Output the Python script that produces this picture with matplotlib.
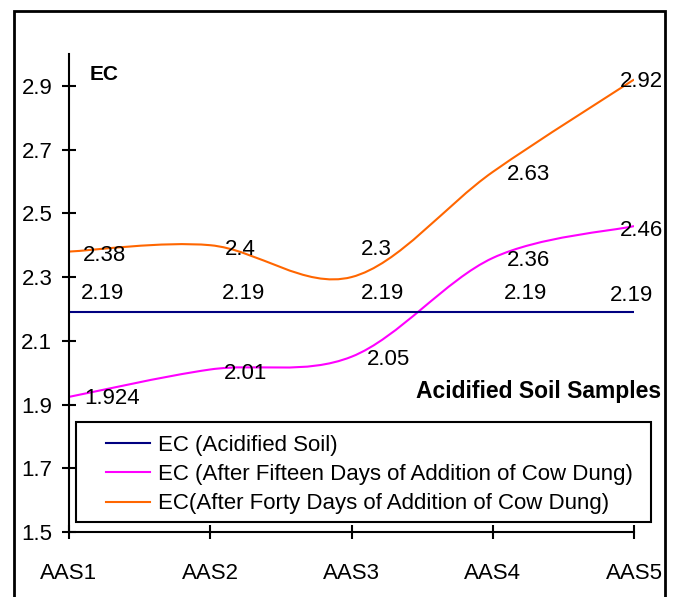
import numpy as np
import matplotlib.pyplot as plt
from matplotlib.path import Path
from matplotlib.patches import PathPatch, Rectangle
from matplotlib.lines import Line2D

plt.rcParams['font.family'] = ['Liberation Sans', 'DejaVu Sans']

# Dados do gráfico
samples = ['AAS1', 'AAS2', 'AAS3', 'AAS4', 'AAS5']
ec_acidified = [2.19, 2.19, 2.19, 2.19, 2.19]
ec_fifteen = [1.924, 2.01, 2.05, 2.36, 2.46]
ec_forty = [2.38, 2.4, 2.3, 2.63, 2.92]
y_ticks = [1.5, 1.7, 1.9, 2.1, 2.3, 2.5, 2.7, 2.9]
series_names = ['EC (Acidified Soil)',
                'EC (After Fifteen Days of Addition of Cow Dung)',
                'EC(After Forty Days of Addition of Cow Dung)']

# Cores e deslocamentos dos rótulos (pixels)
colors = ['#000080', '#FF00FF', '#FF6600']
off_acidified = [(34, 19), (33, 19), (31, 19), (33, 19), (-3, 17)]
off_fifteen = [(43, -2), (35, -4), (37, -3), (36, -3), (7, -4)]
off_forty = [(36, -4), (30, -4), (25, 28), (36, -3), (7, -2)]


# Curva suavizada (Bezier tipo Catmull-Rom, como no Excel)
def smooth_path(x, y):
    pts = np.column_stack([x, y]).astype(float)
    n = len(pts)
    verts = [pts[0]]
    codes = [Path.MOVETO]
    for i in range(n - 1):
        p0 = pts[max(i - 1, 0)]
        p1 = pts[i]
        p2 = pts[i + 1]
        p3 = pts[min(i + 2, n - 1)]
        verts += [p1 + (p2 - p0) / 6, p2 - (p3 - p1) / 6, p2]
        codes += [Path.CURVE4] * 3
    return Path(verts, codes)


fig = plt.figure(figsize=(6.75, 5.97), dpi=100)
ax = fig.add_axes([0.1022, 0.1089, 0.8371, 0.8006])

x = np.arange(len(samples))

ax.plot(x, ec_acidified, color=colors[0], lw=1.5)
for vals, c in [(ec_fifteen, colors[1]), (ec_forty, colors[2])]:
    ax.add_patch(PathPatch(smooth_path(x, vals), fill=False, edgecolor=c, lw=1.5))

# Rótulos de dados
for vals, offs in [(ec_acidified, off_acidified), (ec_fifteen, off_fifteen), (ec_forty, off_forty)]:
    for xi, v, o in zip(x, vals, offs):
        ax.annotate(f'{v:g}', (xi, v), xytext=o, textcoords='offset pixels',
                    ha='center', va='center', fontsize=16)

ax.set_xlim(0, 4)
ax.set_ylim(1.5, 3.0)
ax.set_xticks(x)
ax.set_xticklabels(samples)
ax.set_yticks(y_ticks)
ax.set_yticklabels([f'{t:g}' for t in y_ticks])
ax.tick_params(axis='both', direction='inout', length=10, width=1.5, labelsize=16)
ax.tick_params(axis='x', pad=17)
ax.tick_params(axis='y', pad=7)
for s in ['top', 'right']:
    ax.spines[s].set_visible(False)
for s in ['left', 'bottom']:
    ax.spines[s].set_linewidth(1.5)

fig.text(0.133, 0.876, 'EC', fontsize=15, fontweight='bold', va='center', ha='left')
fig.text(0.979, 0.345, 'Acidified Soil Samples', fontsize=16.5, fontweight='bold',
         va='center', ha='right')

# Legenda com moldura própria
fig.patches.append(Rectangle((0.1126, 0.1256), 0.852, 0.1675, transform=fig.transFigure,
                             fill=True, facecolor='white', edgecolor='black', lw=1.5, zorder=5))
handles = [Line2D([], [], color=c, lw=1.5) for c in colors]
leg = fig.legend(handles, series_names, loc='upper left', bbox_to_anchor=(0.157, 0.2713),
                 frameon=False, fontsize=16, handlelength=2.0, handletextpad=0.35,
                 labelspacing=0.37, borderpad=0, borderaxespad=0)
leg.set_zorder(6)

# Moldura externa
fig.patches.append(Rectangle((0.0207, -0.05), 0.9645, 1.0316, transform=fig.transFigure,
                             fill=False, edgecolor='black', lw=2))

fig.savefig('out.png', dpi=100)
